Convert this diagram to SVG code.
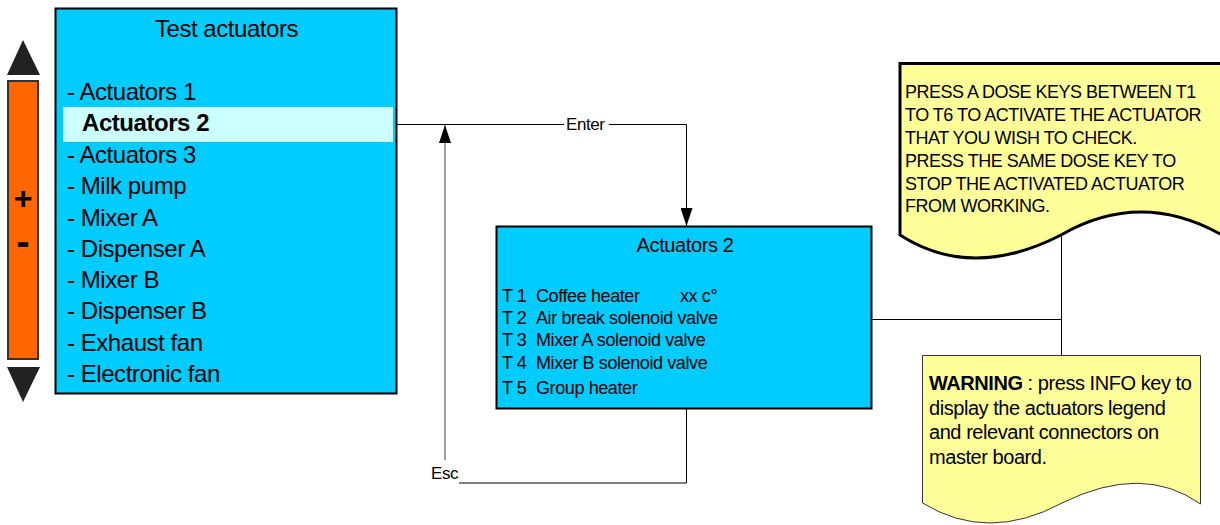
<svg xmlns="http://www.w3.org/2000/svg" width="1220" height="525" viewBox="0 0 1220 525">
<style>
text{font-family:"Liberation Sans",Arial,sans-serif;fill:#000}
.screen{fill:#00CCFF;stroke:#000;stroke-width:2}
.item{font-size:24px;letter-spacing:-0.45px}
.act{font-size:18px;letter-spacing:-0.4px}
.note1{font-size:18px;letter-spacing:-0.5px}
.note2{font-size:20px;letter-spacing:-0.45px}
.lbl{font-size:17px;letter-spacing:-0.4px}
.conn{fill:none;stroke:#000;stroke-width:1}
.tri{fill:#222;stroke:none}
</style>
<defs>
<marker id="arr" markerUnits="userSpaceOnUse" viewBox="0 0 18 12" refX="18" refY="6" markerWidth="18" markerHeight="12" orient="auto">
<path d="M0,0 L18,6 L0,12 Z" fill="#000"/>
</marker>
</defs>
<rect width="1220" height="525" fill="#fff"/>

<g id="scrollbar">
<path class="tri" d="M23,40 L40,75 L7,75 Z"/>
<rect x="8" y="81" width="30" height="278" fill="#FF6600" stroke="#333" stroke-width="2"/>
<path class="tri" d="M7,367 L40,367 L23,402 Z"/>
<text x="23" y="209" font-size="32" font-weight="bold" text-anchor="middle">+</text>
<text x="23" y="255" font-size="40" font-weight="bold" text-anchor="middle">-</text>
</g>

<g id="test-actuators">
<rect class="screen" x="55.5" y="8.5" width="341" height="385"/>
<rect x="63" y="107" width="330" height="35" fill="#CCFFFF"/>
<text x="226.5" y="37" font-size="24" letter-spacing="-0.45" text-anchor="middle">Test actuators</text>
<text class="item" x="67" y="100">- Actuators 1</text>
<text class="item" x="82" y="131" font-weight="bold">Actuators 2</text>
<text class="item" x="67" y="162.5">- Actuators 3</text>
<text class="item" x="67" y="194">- Milk pump</text>
<text class="item" x="67" y="225.5">- Mixer A</text>
<text class="item" x="67" y="256.5">- Dispenser A</text>
<text class="item" x="67" y="288">- Mixer B</text>
<text class="item" x="67" y="319">- Dispenser B</text>
<text class="item" x="67" y="350.5">- Exhaust fan</text>
<text class="item" x="67" y="381.5">- Electronic fan</text>
</g>

<g id="actuators-2">
<rect class="screen" x="496.5" y="226.5" width="375" height="182"/>
<text x="685" y="252" font-size="20" letter-spacing="-0.4" text-anchor="middle">Actuators 2</text>
<text class="act" x="502" y="302">T 1<tspan x="536">Coffee heater</tspan><tspan x="680">xx c°</tspan></text>
<text class="act" x="502" y="323.5">T 2<tspan x="536">Air break solenoid valve</tspan></text>
<text class="act" x="502" y="346">T 3<tspan x="536">Mixer A solenoid valve</tspan></text>
<text class="act" x="502" y="369">T 4<tspan x="536">Mixer B solenoid valve</tspan></text>
<text class="act" x="502" y="394">T 5<tspan x="536">Group heater</tspan></text>
</g>

<g id="connectors">
<path class="conn" d="M396,124.5 H686.5 V226" marker-end="url(#arr)"/>
<rect x="564" y="115" width="45" height="19" fill="#fff"/>
<text class="lbl" x="566" y="130">Enter</text>
<path d="M445,460 V125" fill="none" stroke="#808080" stroke-width="1.5" marker-end="url(#arr)"/>
<path class="conn" d="M686.5,409 V483 H459"/>
<text x="431" y="479" font-size="17" letter-spacing="-0.4">Esc</text>
<path class="conn" d="M872,319.5 H1061.5" stroke="#333"/>
<path class="conn" d="M1061.5,235 V355" stroke="#333"/>
</g>

<g id="note-dose-keys">
<path d="M900,63.5 H1222 V235 Q1140.5,189 1061,235 Q971.5,281 900,235 Z" fill="#FFFF99" stroke="#000" stroke-width="3"/>
<text class="note1" x="905" y="98">PRESS A DOSE KEYS BETWEEN T1</text>
<text class="note1" x="905" y="121">TO T6 TO ACTIVATE THE ACTUATOR</text>
<text class="note1" x="905" y="144">THAT YOU WISH TO CHECK.</text>
<text class="note1" x="905" y="167">PRESS THE SAME DOSE KEY TO</text>
<text class="note1" x="905" y="190">STOP THE ACTIVATED ACTUATOR</text>
<text class="note1" x="905" y="212">FROM WORKING.</text>
</g>

<g id="note-warning">
<path d="M922.5,355.5 H1200.5 V504 Q1142.8,463 1062,503 Q987.8,543 922.5,503 Z" fill="#FFFF99" stroke="#333" stroke-width="1"/>
<text class="note2" x="929" y="390"><tspan font-weight="bold">WARNING</tspan> : press INFO key to</text>
<text class="note2" x="929" y="414.5">display the actuators legend</text>
<text class="note2" x="929" y="439">and relevant connectors on</text>
<text class="note2" x="929" y="464">master board.</text>
</g>
</svg>
